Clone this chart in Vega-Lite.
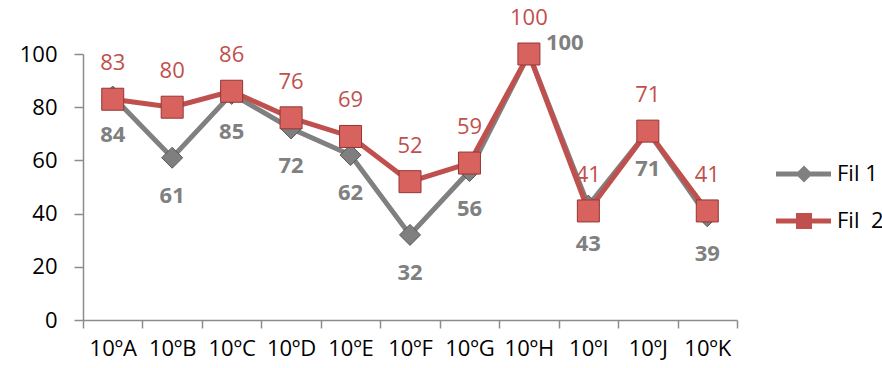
{
  "$schema": "https://vega.github.io/schema/vega-lite/v6.json",
  "width": 654,
  "height": 266,
  "autosize": {"type": "none"},
  "padding": {"left": 83, "top": 54, "right": 145, "bottom": 48},
  "config": {
    "view": {"stroke": null},
    "font": "Open Sans",
    "legend": {
      "orient": "none",
      "legendX": 692,
      "legendY": 109,
      "padding": 0,
      "title": null,
      "symbolSize": 400,
      "symbolStrokeWidth": 0,
      "symbolOpacity": 1,
      "labelOffset": 40,
      "labelFont": "Open Sans",
      "labelFontSize": 22,
      "labelColor": "#000000",
      "labelBaseline": "middle",
      "rowPadding": 25
    }
  },
  "data": {
    "values": [
      {"turma": "10ºA", "serie": "Fil 1", "valor": 84},
      {"turma": "10ºB", "serie": "Fil 1", "valor": 61},
      {"turma": "10ºC", "serie": "Fil 1", "valor": 85},
      {"turma": "10ºD", "serie": "Fil 1", "valor": 72},
      {"turma": "10ºE", "serie": "Fil 1", "valor": 62},
      {"turma": "10ºF", "serie": "Fil 1", "valor": 32},
      {"turma": "10ºG", "serie": "Fil 1", "valor": 56},
      {"turma": "10ºH", "serie": "Fil 1", "valor": 100},
      {"turma": "10ºI", "serie": "Fil 1", "valor": 43},
      {"turma": "10ºJ", "serie": "Fil 1", "valor": 71},
      {"turma": "10ºK", "serie": "Fil 1", "valor": 39},
      {"turma": "10ºA", "serie": "Fil 2", "valor": 83},
      {"turma": "10ºB", "serie": "Fil 2", "valor": 80},
      {"turma": "10ºC", "serie": "Fil 2", "valor": 86},
      {"turma": "10ºD", "serie": "Fil 2", "valor": 76},
      {"turma": "10ºE", "serie": "Fil 2", "valor": 69},
      {"turma": "10ºF", "serie": "Fil 2", "valor": 52},
      {"turma": "10ºG", "serie": "Fil 2", "valor": 59},
      {"turma": "10ºH", "serie": "Fil 2", "valor": 100},
      {"turma": "10ºI", "serie": "Fil 2", "valor": 41},
      {"turma": "10ºJ", "serie": "Fil 2", "valor": 71},
      {"turma": "10ºK", "serie": "Fil 2", "valor": 41}
    ]
  },
  "encoding": {
    "x": {
      "field": "turma",
      "type": "nominal",
      "sort": null,
      "scale": {"type": "band", "paddingInner": 0, "paddingOuter": 0},
      "axis": {
        "title": null,
        "labelAngle": 0,
        "labelFont": "Open Sans",
        "labelFontSize": 22,
        "labelColor": "#000000",
        "labelPadding": 10,
        "tickBand": "extent",
        "tickSize": 8,
        "tickColor": "#8c8c8c",
        "tickWidth": 1.5,
        "domainColor": "#8c8c8c",
        "domainWidth": 1.5,
        "grid": false
      }
    },
    "y": {
      "field": "valor",
      "type": "quantitative",
      "scale": {"domain": [0, 100], "nice": false},
      "axis": {
        "title": null,
        "values": [0, 20, 40, 60, 80, 100],
        "labelFont": "Open Sans",
        "labelFontSize": 22,
        "labelColor": "#000000",
        "labelPadding": 17,
        "tickSize": 9,
        "tickColor": "#8c8c8c",
        "tickWidth": 1.5,
        "domainColor": "#8c8c8c",
        "domainWidth": 1.5,
        "grid": false
      }
    }
  },
  "layer": [
    {
      "transform": [{"filter": "datum.serie == 'Fil 1'"}],
      "mark": {"type": "line", "color": "#808080", "strokeWidth": 5}
    },
    {
      "transform": [{"filter": "datum.serie == 'Fil 1'"}],
      "mark": {"type": "point", "shape": "diamond", "filled": true, "size": 441, "color": "#7f7f7f", "stroke": "#595959", "strokeWidth": 1, "opacity": 1}
    },
    {
      "transform": [{"filter": "datum.serie == 'Fil 2'"}],
      "mark": {"type": "line", "color": "#c0504d", "strokeWidth": 5}
    },
    {
      "transform": [{"filter": "datum.serie == 'Fil 2'"}],
      "mark": {"type": "point", "shape": "square", "filled": true, "size": 484, "color": "#d8625e", "stroke": "#943634", "strokeWidth": 1, "opacity": 1}
    },
    {
      "transform": [{"filter": "datum.serie == 'Fil 2'"}],
      "mark": {"type": "text", "dy": -36, "fontSize": 22, "font": "Open Sans", "color": "#c0504d", "baseline": "middle"},
      "encoding": {"text": {"field": "valor", "type": "quantitative"}}
    },
    {
      "transform": [{"filter": "datum.serie == 'Fil 1' && datum.turma != '10ºH'"}],
      "mark": {"type": "text", "dy": 38, "fontSize": 22, "font": "Open Sans", "fontWeight": "bold", "color": "#808080", "baseline": "middle"},
      "encoding": {"text": {"field": "valor", "type": "quantitative"}}
    },
    {
      "transform": [{"filter": "datum.serie == 'Fil 1' && datum.turma == '10ºH'"}],
      "mark": {"type": "text", "dx": 17, "dy": -11, "align": "left", "fontSize": 22, "font": "Open Sans", "fontWeight": "bold", "color": "#808080", "baseline": "middle"},
      "encoding": {"text": {"field": "valor", "type": "quantitative"}}
    },
    {
      "mark": {"type": "point", "filled": true, "opacity": 0, "size": 400},
      "encoding": {
        "color": {
          "field": "serie",
          "type": "nominal",
          "scale": {"domain": ["Fil 1", "Fil 2"], "range": ["#808080", "#c0504d"]},
          "legend": {"labelExpr": "datum.label == 'Fil 2' ? 'Fil\u00a0 2' : datum.label"}
        },
        "shape": {
          "field": "serie",
          "type": "nominal",
          "scale": {
            "domain": ["Fil 1", "Fil 2"],
            "range": [
              "M-1,-0.25H4.5V0.25H-1Z M1.8,-0.85L2.65,0L1.8,0.85L0.95,0Z",
              "M-1,-0.25H4.5V0.25H-1Z M1,-0.8H2.6V0.8H1Z"
            ]
          },
          "legend": {"labelExpr": "datum.label == 'Fil 2' ? 'Fil\u00a0 2' : datum.label"}
        }
      }
    }
  ]
}
